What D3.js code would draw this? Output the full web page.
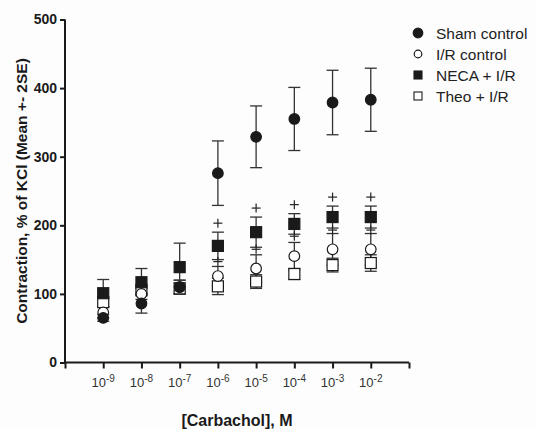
<!DOCTYPE html>
<html><head><meta charset="utf-8">
<script src="https://cdn.jsdelivr.net/npm/d3@7/dist/d3.min.js"></script>
<style>body{margin:0;background:#fff}svg{display:block}</style>
</head><body>
<svg id="c" width="536" height="429"></svg>
<script>
const concentrations = [1e-9,1e-8,1e-7,1e-6,1e-5,1e-4,1e-3,1e-2];
const tickExponents = [-9,-8,-7,-6,-5,-4,-3,-2];
const yTicks = [0,100,200,300,400,500];
const seriesNames = ["Sham control","I/R control","NECA + I/R","Theo + I/R"];
const shamMean = [65,86,110,276,329,355,379,383];
const shamErr  = [5,14,10,47,45,46,47,46];
const irMean   = [73,100,110,126,137,155,165,165];
const irErr    = [8,8,10,14,20,20,23,23];
const necaMean = [101,117,139,170,190,202,212,212];
const necaErr  = [20,20,35,20,22,15,16,16];
const theoMean = [88,106,108,111,118,129,142,145];
const theoErr  = [6,6,8,12,10,8,10,12];
const sigIndex = [3,4,5,6,7]; // "+" markers above NECA

const svg = d3.select("#c");
svg.append("rect").attr("width",536).attr("height",429).attr("fill","#fdfdfd");
const x = d3.scaleLog().domain([1e-10,1e-1]).range([65,409]);
const y = d3.scaleLinear().domain([0,500]).range([362.5,19.5]);
const ink = "#1a1a1a";
const font = "Liberation Sans, Arial, sans-serif";

// axes
const yAxis = svg.append("g").attr("transform","translate(65,0)")
  .call(d3.axisLeft(y).tickValues(yTicks).tickSize(5).tickPadding(3).tickFormat(d3.format("d")));
const xTickVals = d3.range(-10,0).map(e=>Math.pow(10,e));
const xAxis = svg.append("g").attr("transform","translate(0,362.5)")
  .call(d3.axisBottom(x).tickValues(xTickVals).tickSize(6).tickFormat(""));
[yAxis,xAxis].forEach(g=>{
  g.select(".domain").attr("stroke",ink).attr("stroke-width",2);
  g.selectAll(".tick line").attr("stroke",ink).attr("stroke-width",2);
});
xAxis.select(".domain").attr("d","M64,0H409");
yAxis.select(".domain").attr("d","M0,19.5V363.5");
yAxis.selectAll(".tick text").attr("font-family",font)
  .attr("font-size",14).attr("font-weight","bold").attr("fill",ink);

// x tick labels 10^n
const lab = svg.append("g").attr("font-family",font).attr("fill","#333");
tickExponents.forEach(e=>{
  const t = lab.append("text").attr("x",x(Math.pow(10,e))).attr("y",387)
    .attr("text-anchor","middle").attr("font-size",13);
  t.append("tspan").text("10");
  t.append("tspan").attr("dy",-5).attr("font-size",10).text(String(e));
});

// titles
svg.append("text").attr("x",237).attr("y",426).attr("text-anchor","middle")
  .attr("font-family",font).attr("font-size",16)
  .attr("font-weight","bold").attr("fill",ink).text("[Carbachol], M");
svg.append("text").attr("transform","translate(27,191) rotate(-90)").attr("text-anchor","middle")
  .attr("font-family",font).attr("font-size",15.5)
  .attr("font-weight","bold").attr("fill",ink).text("Contraction, % of KCl (Mean +- 2SE)");

// data series
const series = [
  {name:seriesNames[0], mean:shamMean, err:shamErr, shape:"circle", fill:ink},
  {name:seriesNames[1], mean:irMean, err:irErr, shape:"circle", fill:"#fff"},
  {name:seriesNames[2], mean:necaMean, err:necaErr, shape:"square", fill:ink},
  {name:seriesNames[3], mean:theoMean, err:theoErr, shape:"square", fill:"#fff"}
];
const eb = svg.append("g").attr("stroke","#333").attr("stroke-width",1.3).attr("fill","none");
series.forEach(s=>{
  concentrations.forEach((c,i)=>{
    const cx = x(c), y1 = y(s.mean[i]+s.err[i]), y2 = y(s.mean[i]-s.err[i]);
    eb.append("line").attr("x1",cx).attr("x2",cx).attr("y1",y1).attr("y2",y2);
    eb.append("line").attr("x1",cx-6).attr("x2",cx+6).attr("y1",y1).attr("y2",y1);
    eb.append("line").attr("x1",cx-6).attr("x2",cx+6).attr("y1",y2).attr("y2",y2);
  });
});
const drawMarker = (g, shape, fill, cx, cy) => {
  if(shape==="circle") g.append("circle").attr("cx",cx).attr("cy",cy).attr("r",5.3)
     .attr("fill",fill).attr("stroke",ink).attr("stroke-width",1.2);
  else g.append("rect").attr("x",cx-5.5).attr("y",cy-5.5).attr("width",11).attr("height",11)
     .attr("fill",fill).attr("stroke",ink).attr("stroke-width",1.2);
};
const mk = svg.append("g");
[3,1,2,0].forEach(k=>{
  const s = series[k];
  concentrations.forEach((c,i)=>drawMarker(mk,s.shape,s.fill,x(c),y(s.mean[i])));
});
// significance markers
const sg = svg.append("g").attr("stroke","#222").attr("stroke-width",1.2);
const plus = (cx, cy) => {
  sg.append("line").attr("x1",cx-4.5).attr("x2",cx+4.5).attr("y1",cy).attr("y2",cy);
  sg.append("line").attr("x1",cx).attr("x2",cx).attr("y1",cy-4.5).attr("y2",cy+4.5);
};
sigIndex.forEach(i=>{
  const cx = x(concentrations[i]);
  plus(cx, y(necaMean[i]+necaErr[i])-9);
  plus(cx, y(necaMean[i]-necaErr[i])+2);
});

// legend
const lg = svg.append("g").attr("font-family",font);
const legY = [33,54,75,96];
series.forEach((s,k)=>{
  const gy = legY[k];
  if(s.shape==="circle") lg.append("circle").attr("cx",418).attr("cy",gy).attr("r",s.fill==="#fff"?3.8:4.8)
     .attr("fill",s.fill).attr("stroke",ink).attr("stroke-width",1.2);
  else lg.append("rect").attr("x",414).attr("y",gy-4).attr("width",8).attr("height",8)
     .attr("fill",s.fill).attr("stroke",ink).attr("stroke-width",1.1);
  lg.append("text").attr("x",436).attr("y",gy+5.5).attr("font-size",15.5).attr("fill","#222").text(s.name);
});
</script>
</body></html>
